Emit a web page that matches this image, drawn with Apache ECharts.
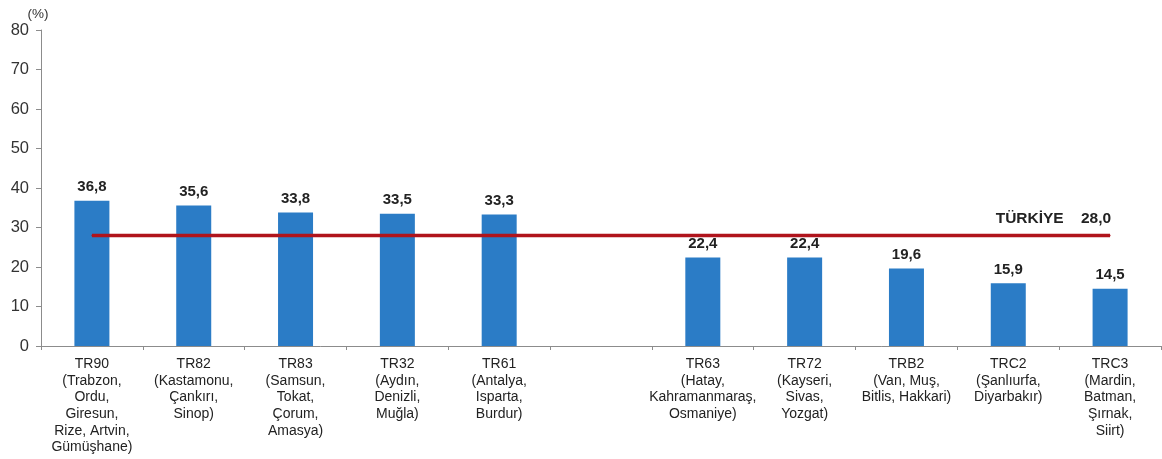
<!DOCTYPE html>
<html><head><meta charset="utf-8">
<script src="https://cdn.jsdelivr.net/npm/echarts@6/dist/echarts.min.js"></script>
<style>html,body{margin:0;padding:0;background:#fff}#c{width:1162px;height:459px}</style>
</head><body><div id="c"></div>
<script>
var categories = [
  "TR90\n(Trabzon,\nOrdu,\nGiresun,\nRize, Artvin,\nGümüşhane)",
  "TR82\n(Kastamonu,\nÇankırı,\nSinop)",
  "TR83\n(Samsun,\nTokat,\nÇorum,\nAmasya)",
  "TR32\n(Aydın,\nDenizli,\nMuğla)",
  "TR61\n(Antalya,\nIsparta,\nBurdur)",
  "",
  "TR63\n(Hatay,\nKahramanmaraş,\nOsmaniye)",
  "TR72\n(Kayseri,\nSivas,\nYozgat)",
  "TRB2\n(Van, Muş,\nBitlis, Hakkari)",
  "TRC2\n(Şanlıurfa,\nDiyarbakır)",
  "TRC3\n(Mardin,\nBatman,\nŞırnak,\nSiirt)"
];
var regionValues = [36.8, 35.6, 33.8, 33.5, 33.3, null, 22.4, 22.4, 19.6, 15.9, 14.5];
var turkiyeValue = 28.0;
var turkiyeLabel = "TÜRKİYE";
var yTicks = {min: 0, max: 80, interval: 10};

function fmt(v){ return v.toFixed(1).replace('.', ','); }

var chart = echarts.init(document.getElementById('c'));
var lineData = categories.map(function(c, i){
  var d = {value: turkiyeValue};
  if (i === categories.length - 1) {
    d.label = {show: true};
  }
  return d;
});
chart.setOption({
  animation: false,
  textStyle: {fontFamily: 'Liberation Sans, Arial, sans-serif'},
  grid: {left: 41, right: 1, top: 30, bottom: 113},
  xAxis: {
    type: 'category',
    data: categories,
    axisLine: {lineStyle: {color: '#8c8c8c', width: 1}},
    axisTick: {show: true, alignWithLabel: false, length: 4, lineStyle: {color: '#8c8c8c'}},
    axisLabel: {interval: 0, color: '#222', fontSize: 14, lineHeight: 16.6, margin: 10,
      fontFamily: 'Liberation Sans, Arial, sans-serif'}
  },
  yAxis: {
    type: 'value',
    min: yTicks.min, max: yTicks.max, interval: yTicks.interval,
    name: '(%)', nameLocation: 'end', nameGap: 9,
    nameTextStyle: {color: '#333', fontSize: 13.5, align: 'center', padding: [0, 0, 0, -6]},
    splitLine: {show: false},
    axisLine: {show: true, lineStyle: {color: '#8c8c8c'}},
    axisTick: {show: true, length: 5, lineStyle: {color: '#8c8c8c'}},
    axisLabel: {color: '#333', fontSize: 16.5, margin: 12}
  },
  series: [{
    type: 'bar',
    data: regionValues.map(function(v){ return v === null ? '-' : v; }),
    barWidth: 35,
    itemStyle: {color: '#2B7CC6'},
    label: {show: true, position: 'top', distance: 6, color: '#222', fontWeight: 'bold', fontSize: 15,
      formatter: function(p){ return fmt(p.value); }}
  }, {
    type: 'line',
    data: lineData,
    symbol: 'circle',
    symbolSize: 1,
    showSymbol: true,
    itemStyle: {color: '#B0141C'},
    lineStyle: {color: '#B0141C', width: 3.5},
    z: 5,
    label: {show: false, position: 'top', align: 'right', distance: 8, offset: [1, 0],
      color: '#222', fontWeight: 'bold', fontSize: 15.5,
      formatter: function(p){ return turkiyeLabel + '    ' + fmt(p.value); }}
  }]
});
</script></body></html>
